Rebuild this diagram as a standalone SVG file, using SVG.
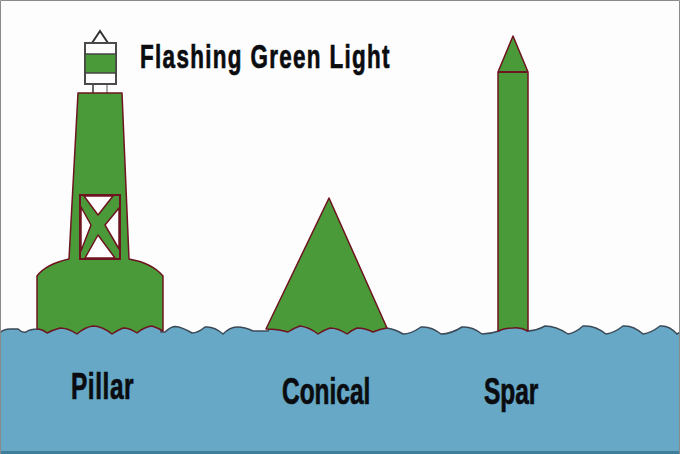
<svg xmlns="http://www.w3.org/2000/svg" width="680" height="454" viewBox="0 0 680 454">
  <style>
    .buoy { fill: #4a9a3a; stroke: #6e1420; stroke-width: 1.500; stroke-linejoin: round; }
    .pane { fill: #fdfdfd; stroke: #6e1420; stroke-width: 1.500; stroke-linejoin: round; }
    .lamp { fill: #fdfdfd; stroke: #4a4a4a; stroke-width: 2; }
    .label { font-family: "Liberation Sans", Arial, sans-serif; font-weight: 700; fill: #0a0c10; stroke: #0a0c10; stroke-width: .7; }
  </style>
  <rect width="680" height="454" fill="#fdfdfd"/>

  <path id="water" d="M0 333 Q3 329 10 329 H18 Q22 333 26 332 Q30 329 38 329 V322 H161 V332 H165 Q170 327 175 326.500 Q182 327 192 333 Q198 333 205 327 Q214 326 223 334 Q230 327 237 327 Q245 327 253 331 H268 L272 324 H381 L386 328 Q395 329 403 334 Q411 334 421 327 Q431 326 441 334 Q451 334 462 327 Q472 326 482 334 Q490 334 499 331 V324 H527 V331 Q536 331 545 326 Q556 326 568 334 Q575 333 583 326 Q595 325 606 334 Q614 333 623 326 Q633 325 643 334 Q651 333 660 326 Q669 325 677 334 L680 332 V454 H0 Z" fill="#66a8c6" stroke="#3c4a58" stroke-width="1.500"/>
  <path d="M0 452.500H680" stroke="#3f7f9c" stroke-width="3"/>
  <path d="M.5 454V.5H679.500V454" fill="none" stroke="#8a8a8a"/>

  <g id="pillar">
    <path style="fill:none;stroke:#333;stroke-width:2" d="M92 43 L100 31 L108 43"/>
    <path d="M93 84V93" stroke="#666" stroke-width="2" fill="none"/>
    <path d="M107 84V93" stroke="#aaa" stroke-width="2" fill="none"/>
    <rect class="lamp" x="85" y="43" width="31" height="41"/>
    <rect x="85" y="54" width="31" height="19" fill="#4a9a3a" stroke="#444" stroke-width="1.500"/>
    <path class="buoy" d="M78 93 H122 L129 259 Q152 263 163 276 V331 Q158 328 152 326 Q144 327 137 333 Q130 328 123 328 Q118 330 112 334 Q102 326 93 326 Q85 327 77 334 Q68 328 60 328 Q53 330 47 333 Q42 329 37 329 V276 Q46 264 69 259 Z"/>
    <rect x="80" y="195" width="40" height="64" fill="#4a9a3a" stroke="#6e1420" stroke-width="2"/>
    <path class="pane" d="M84 196 H113 L98 215 Z"/>
    <path class="pane" d="M119 208 V249 L105 225 Z"/>
    <path class="pane" d="M85 258 H115 L98 235 Z"/>
    <path class="pane" d="M81 207 V251 L91 225 Z"/>
  </g>
  <g id="conical">
    <path class="buoy" d="M329 198 L387 328 Q380 329 373 332 Q365 328 357 328 Q352 330 347 334 Q338 328 330 328 Q324 330 318 334 Q309 327 300 326 Q294 328 288 332 Q278 329 266 329 Z"/>
  </g>
  <g id="spar">
    <path class="buoy" d="M513 36 L528 72 V331 Q520 327 513 328 Q505 328 498 331 V72 Z"/>
    <path d="M498 72 H528" stroke="#6e1420" stroke-width="2" fill="none"/>
  </g>

  <text class="label" transform="translate(140 68) scale(.68 1)" font-size="33" textLength="367" lengthAdjust="spacing">Flashing Green Light</text>
  <text class="label" transform="translate(71 399) scale(.68 1)" font-size="36" textLength="92" lengthAdjust="spacing">Pillar</text>
  <text class="label" transform="translate(282 404) scale(.68 1)" font-size="36" textLength="130" lengthAdjust="spacing">Conical</text>
  <text class="label" transform="translate(484 404) scale(.68 1)" font-size="36" textLength="80" lengthAdjust="spacing">Spar</text>
</svg>
